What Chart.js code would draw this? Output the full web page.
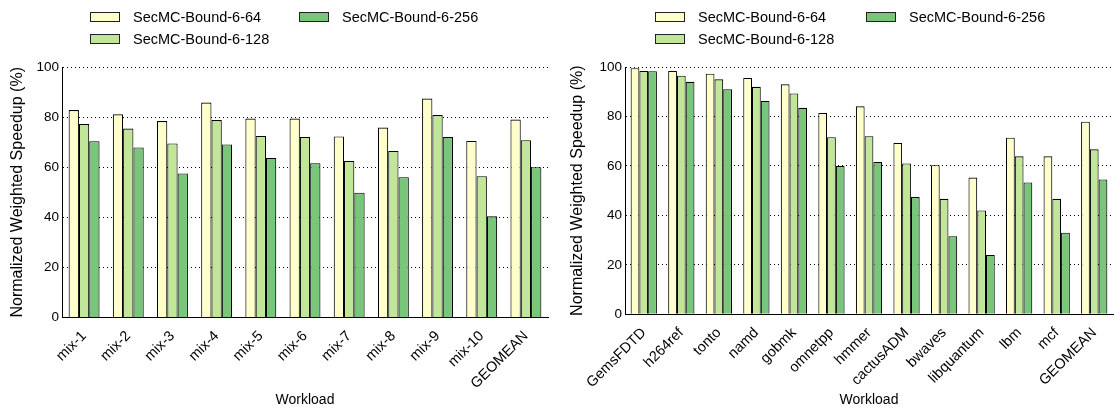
<!DOCTYPE html>
<html>
<head>
<meta charset="utf-8">
<script src="https://cdn.jsdelivr.net/npm/chart.js@4"></script>
<style>
body { margin: 0; background: #fff; width: 1115px; height: 413px; position: relative; overflow: hidden; font-family: "Liberation Sans", Arial, sans-serif; }
.panel { position: absolute; top: 0; height: 413px; }
.key { position: absolute; display: flex; align-items: center; font-size: 14.5px; line-height: 16px; color: #000; white-space: nowrap; }
.key i { display: inline-block; width: 28px; height: 8px; border: 1px solid #222; margin-right: 13px; }
</style>
</head>
<body>
<div class="panel" style="left:0;width:560px"><canvas id="mixChart" width="560" height="413"></canvas></div>
<div class="panel" style="left:560px;width:555px"><canvas id="specChart" width="555" height="413"></canvas></div>
<script>
// series shared by both panels
var seriesNames = ['SecMC-Bound-6-64', 'SecMC-Bound-6-128', 'SecMC-Bound-6-256'];
var seriesColors = ['#ffffcc', '#c2e699', '#78c679'];

// multi-programmed mixes
var mixLabels = ['mix-1', 'mix-2', 'mix-3', 'mix-4', 'mix-5', 'mix-6', 'mix-7', 'mix-8', 'mix-9', 'mix-10', 'GEOMEAN'];
var mix64  = [82.8, 81.1, 78.4, 85.8, 79.4, 79.4, 72.3, 75.8, 87.4, 70.5, 79.0];
var mix128 = [77.2, 75.4, 69.5, 78.8, 72.5, 72.1, 62.5, 66.5, 80.8, 56.4, 70.8];
var mix256 = [70.4, 67.9, 57.5, 69.1, 63.7, 61.6, 49.8, 56.0, 72.1, 40.4, 60.0];

// single benchmarks
var specLabels = ['GemsFDTD', 'h264ref', 'tonto', 'namd', 'gobmk', 'omnetpp', 'hmmer', 'cactusADM', 'bwaves', 'libquantum', 'lbm', 'mcf', 'GEOMEAN'];
var spec64  = [99.5, 98.4, 97.3, 95.6, 93.0, 81.4, 84.1, 69.3, 60.3, 55.3, 71.4, 63.9, 77.9];
var spec128 = [98.4, 96.5, 95.0, 92.0, 89.3, 71.6, 72.0, 61.0, 46.7, 42.0, 63.9, 46.7, 66.7];
var spec256 = [98.3, 94.0, 91.0, 86.3, 83.5, 60.0, 61.6, 47.4, 31.6, 24.0, 53.3, 33.0, 54.5];

var yTicks = [0, 20, 40, 60, 80, 100];

Chart.defaults.font.family = '"Liberation Sans", Arial, sans-serif';
Chart.defaults.color = '#000';

// two-column key, filled column by column
function addKey(boxX, col2X) {
    for (var i = 0; i < seriesNames.length; i++) {
        var col = Math.floor(i / 2), row = i % 2;
        var el = document.createElement('div');
        el.className = 'key';
        el.style.left = (col === 0 ? boxX : col2X) + 'px';
        el.style.top = (9 + row * 21.5) + 'px';
        el.innerHTML = '<i style="background:' + seriesColors[i] + '"></i>' + seriesNames[i];
        document.body.appendChild(el);
    }
}

function makeChart(id, labels, values, yWidth, xHeight, padRight) {
    var ctx = document.getElementById(id).getContext('2d');
    return new Chart(ctx, {
        type: 'bar',
        data: {
            labels: labels,
            datasets: values.map(function (v, i) {
                return {
                    label: seriesNames[i],
                    data: v,
                    backgroundColor: seriesColors[i],
                    borderColor: '#000',
                    borderWidth: 1.1,
                    barPercentage: 1,
                    categoryPercentage: 0.7
                };
            })
        },
        options: {
            responsive: false,
            animation: false,
            layout: { padding: { top: 67, bottom: 4, left: 0, right: padRight } },
            plugins: { legend: { display: false }, tooltip: { enabled: false } },
            scales: {
                x: {
                    grid: { display: false },
                    border: { display: true, color: '#000', width: 1 },
                    ticks: { maxRotation: 45, minRotation: 45, autoSkip: false, padding: 2, font: { size: 14.5 } },
                    title: { display: true, text: 'Workload', font: { size: 14 }, padding: { top: 0, bottom: 0 } },
                    afterFit: function (s) { s.height = xHeight; }
                },
                y: {
                    min: 0,
                    max: 100,
                    afterBuildTicks: function (s) { s.ticks = yTicks.map(function (t) { return { value: t }; }); },
                    grid: { color: '#000', lineWidth: 1, drawTicks: false },
                    border: { display: true, color: '#000', width: 1, dash: [1, 3] },
                    ticks: { padding: 3, font: { size: 13.5 } },
                    title: { display: true, text: 'Normalized Weighted Speedup (%)', font: { size: 16 }, padding: { top: 8, bottom: 0 } },
                    afterFit: function (s) { s.width = yWidth; }
                }
            }
        }
    });
}

makeChart('mixChart', mixLabels, [mix64, mix128, mix256], 62, 91.5, 12);
makeChart('specChart', specLabels, [spec64, spec128, spec256], 65, 94.7, 2);

addKey(90, 299);
addKey(655, 866);
</script>
</body>
</html>
